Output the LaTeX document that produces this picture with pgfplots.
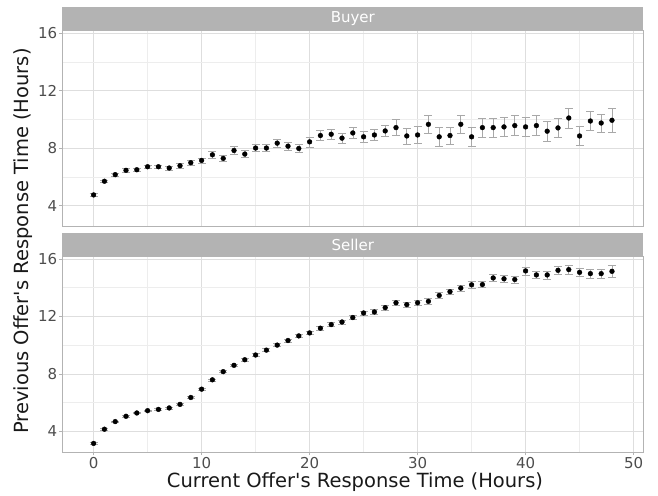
\documentclass[border=0pt]{standalone}
\usepackage{fontspec}
\setmainfont{DejaVu Sans}
\usepackage{pgfplots}
\usepackage{pgfplotstable}
\pgfplotsset{compat=1.18}
\definecolor{gridc}{HTML}{DEDEDE}
\definecolor{minorgridc}{HTML}{EDEDED}
\definecolor{borderc}{HTML}{B3B3B3}
\definecolor{errc}{HTML}{A8A8A8}
\definecolor{stripc}{HTML}{B3B3B3}
\definecolor{ticktext}{HTML}{4D4D4D}

\pgfplotstableread{
x y e
0 4.74 0.08
1 5.69 0.10
2 6.15 0.10
3 6.45 0.11
4 6.49 0.12
5 6.70 0.13
6 6.70 0.13
7 6.61 0.14
8 6.77 0.15
9 6.98 0.15
10 7.14 0.17
11 7.53 0.22
12 7.28 0.22
13 7.83 0.28
14 7.58 0.25
15 8.00 0.25
16 8.00 0.25
17 8.34 0.30
18 8.13 0.30
19 7.97 0.30
20 8.43 0.35
21 8.87 0.33
22 8.96 0.35
23 8.69 0.35
24 9.05 0.37
25 8.78 0.35
26 8.91 0.37
27 9.19 0.40
28 9.42 0.55
29 8.84 0.55
30 8.91 0.60
31 9.65 0.65
32 8.78 0.65
33 8.87 0.60
34 9.65 0.65
35 8.78 0.65
36 9.42 0.65
37 9.42 0.65
38 9.47 0.65
39 9.56 0.70
40 9.47 0.65
41 9.56 0.70
42 9.17 0.70
43 9.40 0.65
44 10.09 0.70
45 8.84 0.65
46 9.88 0.65
47 9.74 0.63
48 9.93 0.85
}\buyer

\pgfplotstableread{
x y e
0 3.15 0.05
1 4.14 0.05
2 4.67 0.05
3 5.04 0.05
4 5.27 0.05
5 5.43 0.05
6 5.52 0.05
7 5.62 0.06
8 5.87 0.06
9 6.35 0.06
10 6.93 0.07
11 7.58 0.07
12 8.15 0.08
13 8.59 0.08
14 8.98 0.09
15 9.31 0.09
16 9.65 0.10
17 10.00 0.10
18 10.32 0.11
19 10.64 0.11
20 10.85 0.12
21 11.18 0.12
22 11.43 0.13
23 11.61 0.13
24 11.92 0.14
25 12.24 0.15
26 12.31 0.15
27 12.61 0.16
28 12.95 0.17
29 12.82 0.17
30 12.95 0.18
31 13.05 0.19
32 13.46 0.20
33 13.72 0.20
34 13.97 0.21
35 14.20 0.22
36 14.22 0.22
37 14.68 0.23
38 14.62 0.24
39 14.57 0.25
40 15.17 0.28
41 14.89 0.27
42 14.89 0.28
43 15.21 0.29
44 15.26 0.30
45 15.07 0.30
46 14.98 0.30
47 14.98 0.32
48 15.14 0.42
}\seller

\pgfplotsset{
  panel/.style={
    scale only axis, width=581bp,
    xmin=-2.9, xmax=50.9, ymin=2.53, ymax=16.16,
    xtick={0,10,...,50}, minor xtick={5,15,...,45},
    ytick={4,8,12,16}, minor ytick={6,10,14},
    grid=both,
    major grid style={color=gridc, line width=0.6bp},
    minor grid style={color=minorgridc, line width=0.4bp},
    axis line style={borderc, line width=0.8bp},
    tick style={borderc, line width=0.6bp},
    major tick length=3bp, minor tick length=0pt,
    tick align=outside,
    ytick pos=left, xtick pos=bottom,
    /pgf/number format/assume math mode=true,
    tick label style={font=\fontsize{15bp}{18bp}\selectfont, text=ticktext},
    yticklabel style={inner sep=2bp},
    xticklabel style={inner sep=2bp},
  },
  pts/.style={only marks, mark=*, mark size=2.4bp, black,
    error bars/.cd, y dir=both, y explicit,
    error bar style={errc, line width=0.6bp},
    error mark options={rotate=90, errc, mark size=4bp, line width=0.6bp}},
}

\begin{document}
\begin{tikzpicture}
\useasboundingbox (0,0) rectangle (658bp,496bp);

\begin{axis}[panel, name=top, height=196bp,
  at={(62.3bp,269.3bp)}, anchor=south west,
  xticklabels={}, xtick style={draw=none}]
\addplot[pts] table[x=x, y=y, y error=e] {\buyer};
\end{axis}
\fill[stripc] (top.north west) rectangle ([yshift=24bp]top.north east);
\node[text=white, font=\fontsize{15bp}{18bp}\selectfont] at ([yshift=12bp]top.north) {Buyer};

\begin{axis}[panel, name=bot, height=195.6bp,
  at={(62.3bp,43.7bp)}, anchor=south west]
\addplot[pts] table[x=x, y=y, y error=e] {\seller};
\end{axis}
\fill[stripc] (bot.north west) rectangle ([yshift=24bp]bot.north east);
\node[text=white, font=\fontsize{15bp}{18bp}\selectfont] at ([yshift=12bp]bot.north) {Seller};

\node[font=\fontsize{19.5bp}{23bp}\selectfont, text=black!90] at (355bp,14bp) {Current Offer\textquotesingle s Response Time (Hours)};
\node[font=\fontsize{19.5bp}{23bp}\selectfont, text=black!90, rotate=90] at (23bp,255bp) {Previous Offer\textquotesingle s Response Time (Hours)};
\end{tikzpicture}
\end{document}
